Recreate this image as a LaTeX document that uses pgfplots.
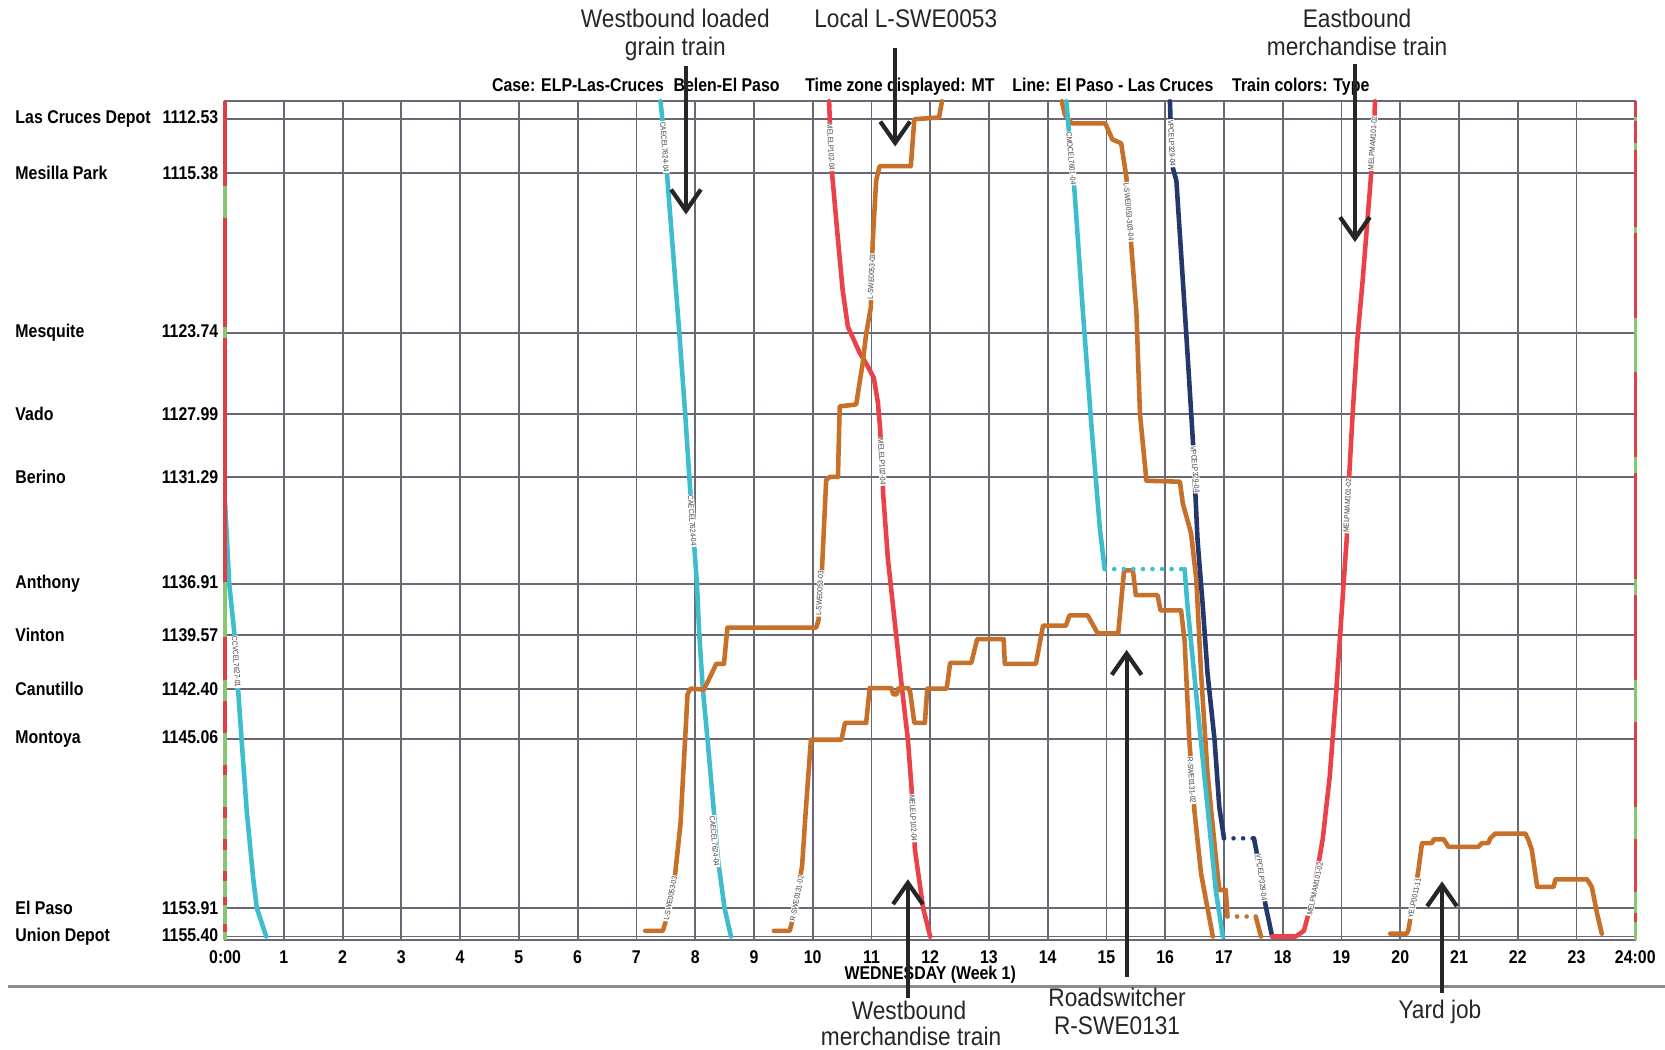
\documentclass[border=0pt]{standalone}
\usepackage{pgfplots}
\pgfplotsset{compat=1.18}
\usepackage{fontspec}
\setmainfont[FakeStretch=0.86]{Liberation Sans}
\newfontfamily\annfont[FakeStretch=0.89]{Liberation Sans}
\usetikzlibrary{arrows.meta}
\definecolor{tcyan}{RGB}{62,190,205}
\definecolor{tred}{RGB}{234,66,72}
\definecolor{torange}{RGB}{198,112,42}
\definecolor{tnavy}{RGB}{36,56,108}
\definecolor{gridc}{RGB}{105,105,118}
\definecolor{arr}{RGB}{38,38,38}
\definecolor{fgreen}{RGB}{135,200,110}
\definecolor{fred}{RGB}{222,62,72}
\newcommand{\stlab}[2]{\makebox[95.5pt][l]{#1\hfill#2}}
\newcommand{\trl}[3]{\node[rotate=#3, font=\fontsize{3.6}{4}\selectfont, fill=white, inner sep=0.4pt, text=black!75] at (axis cs:#1) {#2};}
\newcommand{\fseg}[4]{\draw[#1, line width=1.6pt] (axis cs:#2,#3) -- (axis cs:#2,#4);}
\begin{document}
\begin{tikzpicture}
\useasboundingbox (0,0) rectangle (784pt,-494pt);
\begin{axis}[
  at={(106pt,-442.5pt)}, anchor=south west,
  scale only axis, width=664pt, height=395pt,
  xmin=0, xmax=24, ymin=1111.58, ymax=1155.57, y dir=reverse,
  clip=false,
  xtick={0,1,...,24},
  xticklabels={0:00,1,2,3,4,5,6,7,8,9,10,11,12,13,14,15,16,17,18,19,20,21,22,23,24:00},
  ytick={1112.53,1115.38,1123.74,1127.99,1131.29,1136.91,1139.57,1142.40,1145.06,1153.91,1155.40},
  yticklabels={\stlab{Las Cruces Depot}{1112.53},\stlab{Mesilla Park}{1115.38},\stlab{Mesquite}{1123.74},\stlab{Vado}{1127.99},\stlab{Berino}{1131.29},\stlab{Anthony}{1136.91},\stlab{Vinton}{1139.57},\stlab{Canutillo}{1142.40},\stlab{Montoya}{1145.06},\stlab{El Paso}{1153.91},\stlab{Union Depot}{1155.40}},
  grid=major, major grid style={gridc, line width=0.85pt},
  axis line style={gridc, line width=0.85pt},
  major tick length=0pt,
  tick label style={font=\bfseries\fontsize{8.7}{10}\selectfont},
  yticklabel style={anchor=east, inner sep=0pt, xshift=-3pt},
  xticklabel style={anchor=north, inner sep=0pt, yshift=-5pt},
  every axis plot/.append style={line width=2.15pt, line cap=round, line join=round},
]
% cyan 1
\addplot[tcyan] coordinates {(0.0,1132.7) (0.07,1136.91) (0.16,1139.57) (0.22,1142.40) (0.28,1145.06) (0.37,1148.9) (0.48,1152.4) (0.54,1153.91) (0.70,1155.40)};
% cyan 2 westbound loaded grain
\addplot[tcyan] coordinates {(7.41,1111.6) (7.44,1112.53) (7.52,1115.38) (7.73,1123.74) (7.83,1127.98) (7.90,1131.29) (8.03,1136.9) (8.07,1139.57) (8.13,1142.40) (8.21,1145.06) (8.32,1148.9) (8.39,1151.4) (8.50,1153.91) (8.61,1155.40)};
% red westbound merchandise
\addplot[tred] coordinates {(10.28,1111.6) (10.29,1112.53) (10.33,1115.38) (10.42,1118.5) (10.51,1121.5) (10.60,1123.44) (10.67,1123.9) (10.80,1124.8) (10.92,1125.4) (11.04,1126.1) (11.11,1127.4) (11.15,1128.85) (11.20,1132.2) (11.28,1135.6) (11.42,1139.57) (11.52,1142.40) (11.62,1145.06) (11.68,1147.5) (11.74,1150.85) (11.88,1153.91) (12.0,1155.4)};
% local L-SWE0053
\addplot[torange] coordinates {(7.15,1155.1) (7.45,1155.1) (7.50,1154.6) (7.66,1152.1) (7.75,1149.5) (7.83,1145.0) (7.87,1142.7) (7.92,1142.4) (8.15,1142.45) (8.36,1141.1) (8.49,1141.1) (8.55,1139.2) (10.06,1139.2) (10.10,1138.8) (10.15,1136.7) (10.23,1131.46) (10.29,1131.3) (10.43,1131.3) (10.46,1127.6) (10.74,1127.5) (10.85,1125.36) (10.91,1123.8) (10.99,1122.4) (11.02,1119.08) (11.08,1115.76) (11.14,1115.0) (11.67,1115.0) (11.73,1112.54) (12.15,1112.45) (12.20,1111.6)};
% roadswitcher R-SWE0131
\addplot[torange] coordinates {(9.34,1155.1) (9.61,1155.1) (9.66,1154.5) (9.82,1151.7) (9.88,1148.9) (9.97,1145.08) (10.49,1145.08) (10.55,1144.2) (10.91,1144.2) (10.97,1142.37) (11.34,1142.37) (11.37,1142.7) (11.43,1142.7) (11.46,1142.37) (11.63,1142.37) (11.66,1142.6) (11.73,1144.2) (11.91,1144.2) (11.95,1142.4) (12.28,1142.4) (12.34,1141.05) (12.70,1141.05) (12.80,1139.8) (13.25,1139.8) (13.27,1141.1) (13.80,1141.1) (13.92,1139.1) (14.31,1139.1) (14.37,1138.56) (14.68,1138.56) (14.85,1139.5) (15.2,1139.5) (15.3,1136.2) (15.45,1136.2) (15.5,1137.5) (15.87,1137.5) (15.92,1138.3) (16.27,1138.3) (16.33,1139.9) (16.41,1145.1) (16.50,1148.9) (16.61,1152.1) (16.81,1155.4)};
% orange from top
\addplot[torange] coordinates {(14.24,1111.6) (14.29,1112.3) (14.41,1112.76) (14.98,1112.76) (15.10,1113.6) (15.25,1113.8) (15.34,1115.6) (15.42,1119.08) (15.51,1122.7) (15.57,1127.98) (15.68,1131.5) (16.25,1131.55) (16.30,1132.7) (16.44,1134.26) (16.53,1136.7) (16.61,1141.6) (16.72,1146.85) (16.86,1151.2) (16.92,1152.96) (17.03,1152.96) (17.06,1154.35)};
\addplot[torange, dash pattern=on 0pt off 4.5pt] coordinates {(17.06,1154.35) (17.54,1154.35)};
\addplot[torange] coordinates {(17.54,1154.35) (17.63,1155.4)};
% cyan 3
\addplot[tcyan] coordinates {(14.32,1111.6) (14.35,1112.8) (14.46,1116.46) (14.60,1122.7) (14.75,1128.85) (14.89,1134.08) (14.97,1136.13)};
\addplot[tcyan, dash pattern=on 0pt off 4.5pt] coordinates {(14.97,1136.13) (16.33,1136.13)};
\addplot[tcyan] coordinates {(16.33,1136.13) (16.38,1138.1) (16.55,1143.4) (16.72,1148.6) (16.86,1152.96) (16.98,1155.4)};
% navy
\addplot[tnavy] coordinates {(16.08,1111.6) (16.09,1112.53) (16.13,1115.1) (16.19,1115.76) (16.30,1121.0) (16.39,1125.36) (16.47,1129.37) (16.55,1134.6) (16.64,1138.1) (16.72,1141.6) (16.84,1145.1) (16.92,1148.6) (17.0,1150.25)};
\addplot[tnavy, dash pattern=on 0pt off 4.5pt] coordinates {(17.0,1150.25) (17.51,1150.25)};
\addplot[tnavy] coordinates {(17.51,1150.25) (17.57,1151.2) (17.71,1153.8) (17.82,1155.4)};
% red eastbound merchandise
\addplot[tred] coordinates {(17.82,1155.4) (18.22,1155.4) (18.36,1155.1) (18.50,1153.5) (18.68,1150.3) (18.80,1147.0) (18.90,1143.0) (18.97,1139.9) (19.04,1136.7) (19.09,1134.5) (19.13,1131.29) (19.19,1127.98) (19.27,1124.1) (19.36,1121.0) (19.44,1117.9) (19.51,1115.2) (19.56,1112.53) (19.57,1111.6)};
% yard job
\addplot[torange] coordinates {(19.83,1155.25) (20.11,1155.25) (20.14,1155.05) (20.31,1151.9) (20.37,1150.5) (20.54,1150.5) (20.57,1150.3) (20.74,1150.3) (20.82,1150.7) (21.33,1150.7) (21.39,1150.5) (21.50,1150.5) (21.53,1150.25) (21.62,1150.0) (22.13,1150.0) (22.18,1150.33) (22.24,1150.86) (22.33,1152.8) (22.61,1152.8) (22.64,1152.4) (23.18,1152.4) (23.26,1152.8) (23.35,1154.2) (23.43,1155.25)};
% train id labels
\trl{0.19,1141.0}{CCVCEL7627-01}{-86}
\trl{7.48,1114.0}{CAECEL7624-04}{-86}
\trl{7.95,1133.6}{CAECEL7624-04}{-86}
\trl{8.33,1150.4}{CAECEL7624-04}{-85}
\trl{10.31,1114.0}{MELELP102-04}{-87}
\trl{11.18,1130.5}{MELELP102-04}{-87}
\trl{11.71,1149.2}{MELELP102-04}{-87}
\trl{7.58,1153.4}{L-SWE0053-03}{79}
\trl{10.12,1137.4}{L-SWE0053-03}{87}
\trl{11.0,1120.8}{L-SWE0053-03}{87}
\trl{9.73,1153.4}{R-SWE0131-02}{79}
\trl{15.38,1117.4}{L-SWE0053-303-04}{-85}
\trl{16.45,1147.2}{R-SWE0131-02}{-86}
\trl{14.40,1114.6}{CMOCEL7601-04}{-85}
\trl{16.11,1113.8}{VPCELP329-04}{-87}
\trl{16.51,1130.9}{VPCELP329-04}{-85}
\trl{17.64,1152.3}{VPCELP329-04}{-83}
\trl{19.53,1113.8}{MELPMAM101-02}{86}
\trl{19.10,1132.8}{MELPMAM101-02}{87}
\trl{18.55,1152.9}{MELPMAM101-02}{78}
\trl{20.24,1153.4}{YELP0011-11}{78}
% status frames
\fseg{fgreen}{0}{1111.58}{1155.57}
\fseg{fred}{0}{1111.58}{1116.04}
\fseg{fred}{0}{1117.71}{1123.44}
\fseg{fred}{0}{1124.0}{1136.8}
\fseg{fred}{0}{1139.7}{1141.93}
\fseg{fred}{0}{1143.04}{1144.71}
\fseg{fred}{0}{1146.38}{1146.94}
\fseg{fred}{0}{1148.61}{1149.17}
\fseg{fred}{0}{1150.28}{1150.84}
\fseg{fred}{0}{1151.95}{1152.51}
\fseg{fred}{0}{1153.34}{1153.73}
\fseg{fred}{0}{1154.74}{1155.18}
\fseg{fred}{24}{1111.58}{1155.57}
\fseg{fgreen}{24}{1112.42}{1112.64}
\fseg{fgreen}{24}{1113.81}{1114.14}
\fseg{fgreen}{24}{1118.21}{1118.49}
\fseg{fgreen}{24}{1122.98}{1125.78}
\fseg{fgreen}{24}{1130.24}{1131.07}
\fseg{fgreen}{24}{1136.64}{1137.47}
\fseg{fgreen}{24}{1141.93}{1144.16}
\fseg{fgreen}{24}{1148.61}{1150.28}
\fseg{fgreen}{24}{1153.06}{1154.18}
\fseg{fgreen}{24}{1154.62}{1155.57}
\end{axis}
\begin{scope}[x=0.5pt,y=-0.5pt]
% header
\begin{scope}[every node/.style={anchor=base west, inner sep=0pt, font=\bfseries\fontsize{8.7}{10}\selectfont}]
\node at (463,86) {Case: ELP-Las-Cruces};
\node at (634,86) {Belen-El Paso};
\node at (758,86) {Time zone displayed: MT};
\node at (953,86) {Line: El Paso - Las Cruces};
\node at (1160,86) {Train colors: Type};
\end{scope}
\node[font=\bfseries\fontsize{8.7}{10}\selectfont, inner sep=0pt] at (876,918) {WEDNESDAY (Week 1)};
\draw[black!45, line width=1pt] (8,929) -- (1568,929);
% annotations
\begin{scope}[every node/.style={anchor=base, inner sep=0pt, font=\annfont\fontsize{12}{14}\selectfont, text=black!85}]
\node at (636,26) {Westbound loaded};
\node at (636,52) {grain train};
\node at (853,26) {Local L-SWE0053};
\node at (1278,26) {Eastbound};
\node at (1278,52) {merchandise train};
\node at (856,960) {Westbound};
\node at (858,985) {merchandise train};
\node at (1052,948) {Roadswitcher};
\node at (1052,974) {R-SWE0131};
\node at (1356,959) {Yard job};
\end{scope}
\begin{scope}[arr, line width=2pt, -{Straight Barb[length=10pt,width=14pt]}]
\draw (646,62) -- (646,202);
\draw (843,45) -- (843,138);
\draw (1276,60) -- (1276,228);
\draw (855,940) -- (855,828);
\draw (1061,920) -- (1061,612);
\draw (1358,935) -- (1358,830);
\end{scope}
\end{scope}
\end{tikzpicture}
\end{document}
